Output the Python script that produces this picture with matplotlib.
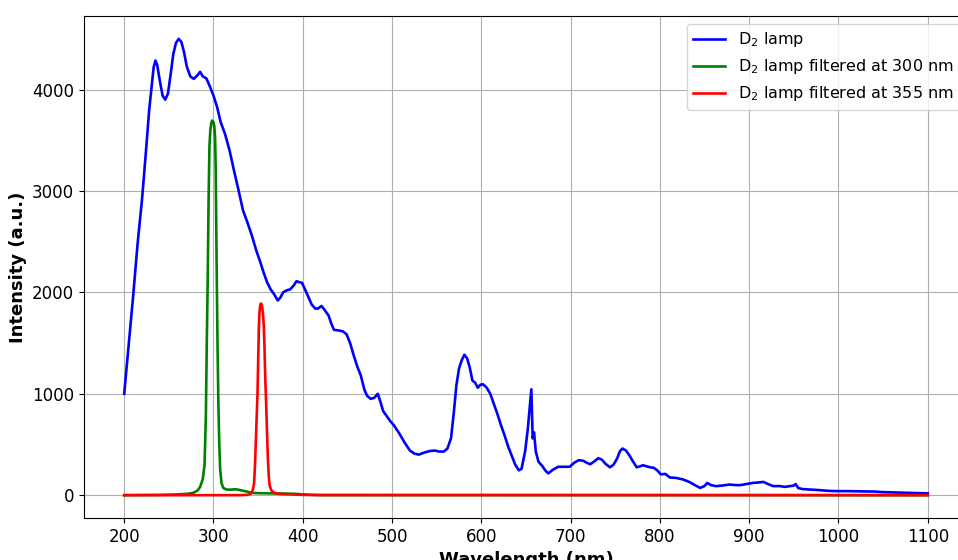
import numpy as np
import matplotlib
matplotlib.use("Agg")
import matplotlib.pyplot as plt

# D2 lamp spectrum (wavelength nm, intensity a.u.)
lamp_wl = [200, 205, 210, 215, 220, 224, 228, 231, 233, 235, 237, 240, 243, 246, 249,
           252, 255, 258, 261, 264, 267, 270, 274, 278, 282, 285, 288, 292, 296, 300,
           304, 308, 313, 318, 323, 328, 333, 338, 343, 348, 352, 356, 360, 364, 368,
           372, 375, 378, 382, 386, 390, 393, 396, 399, 402, 406, 410, 414, 417, 421,
           425, 429, 432, 435, 440, 445, 449, 453, 457, 461, 465, 469, 472, 476, 480,
           484, 487, 490, 494, 498, 502, 508, 514, 520, 525, 530, 536, 542, 548, 553,
           558, 562, 566, 569, 572, 575, 578, 581, 584, 587, 590, 593, 596, 599, 602,
           606, 610, 614, 618, 622, 626, 630, 634, 638, 642, 645, 649, 652, 654.5, 656,
           657.5, 659, 661, 664, 668, 672, 675, 680, 686, 692, 699, 704, 709, 714, 718,
           722, 726, 731, 735, 739, 744, 748, 752, 755, 758, 762, 766, 770, 774, 778,
           781, 785, 789, 793, 797, 801, 806, 811, 818, 826, 833, 838, 845, 850, 853,
           857, 863, 870, 878, 884, 890, 897, 904, 910, 916, 921, 927, 934, 940, 945,
           950, 952, 955, 960, 970, 980, 990, 1000, 1010, 1020, 1030, 1040, 1050, 1060,
           1070, 1080, 1090, 1100]
lamp_int = [1000, 1480, 1960, 2480, 2920, 3350, 3800, 4056, 4220, 4286, 4240, 4080, 3940, 3900, 3960,
            4150, 4350, 4460, 4500, 4470, 4370, 4230, 4130, 4105, 4140, 4175, 4130, 4110, 4030, 3940,
            3830, 3680, 3560, 3400, 3200, 3010, 2810, 2690, 2560, 2410, 2310, 2200, 2100, 2030, 1980,
            1920, 1950, 2000, 2020, 2030, 2070, 2110, 2100, 2095, 2040, 1960, 1880, 1840, 1840, 1866,
            1820, 1770, 1690, 1630, 1625, 1615, 1587, 1500, 1380, 1270, 1180, 1040, 980, 950, 960,
            1000, 920, 830, 780, 730, 690, 610, 520, 440, 410, 400, 420, 435, 440, 430,
            430, 460, 560, 800, 1080, 1250, 1330, 1385, 1350, 1260, 1130, 1110, 1060, 1090, 1093,
            1060, 1000, 900, 800, 690, 590, 480, 390, 300, 245, 260, 430, 650, 900, 1044,
            560, 620, 430, 330, 290, 240, 215, 250, 280, 280, 280, 320, 345, 340, 320,
            305, 330, 365, 350, 310, 275, 300, 360, 430, 460, 440, 390, 330, 275, 285,
            295, 285, 275, 270, 245, 205, 210, 175, 170, 155, 130, 105, 72, 90, 121,
            100, 89, 95, 105, 100, 99, 110, 121, 125, 131, 110, 89, 90, 82, 89,
            95, 110, 70, 60, 55, 49, 42, 40, 40, 38, 37, 36, 30, 28,
            25, 22, 20, 18]

# lamp filtered at 300 nm
f300_wl = [200, 240, 255, 265, 272, 278, 282, 285, 288, 290, 291.5, 292.5, 293.5, 294.5, 295.5,
           296.5, 297.5, 298.5, 300, 301, 301.8, 302.5, 303.5, 304.5, 305.5, 306.5, 307.5, 309,
           311, 315, 320, 325, 330, 335, 340, 345, 350, 360, 370, 380, 390, 400, 410, 420, 1100]
f300_int = [0, 3, 6, 10, 15, 25, 45, 80, 160, 300, 800, 1500, 2100, 2900, 3450,
            3600, 3670, 3694, 3680, 3630, 3520, 3200, 2300, 1500, 900, 500, 250, 120,
            70, 55, 55, 58, 50, 40, 30, 22, 20, 18, 17, 16, 14, 8, 3, 1, 0]

# lamp filtered at 355 nm
f355_wl = [200, 330, 338, 342, 344, 345.5, 346.5, 347.5, 348.5, 349.3, 350, 350.8, 351.5, 352.3,
           353, 353.8, 354.6, 355.5, 356.3, 357, 358, 359, 360, 361, 362, 363, 365, 368, 371,
           380, 390, 400, 420, 1100]
f355_int = [0, 0, 3, 15, 50, 120, 300, 550, 800, 1000, 1300, 1650, 1800, 1870,
            1890, 1885, 1850, 1780, 1680, 1500, 1150, 900, 600, 350, 180, 90, 45, 25, 15,
            10, 7, 3, 1, 0]

fig = plt.figure(figsize=(9.58, 5.60), dpi=100)
# axes run past the right and bottom edge, as in the cropped original
ax = fig.add_axes([0.0877, 0.075, 0.9227, 0.8964])

ax.plot(lamp_wl, lamp_int, color='blue', lw=1.9, label=r'D$_2$ lamp')
ax.plot(f300_wl, f300_int, color='green', lw=1.9, label=r'D$_2$ lamp filtered at 300 nm')
ax.plot(f355_wl, f355_int, color='red', lw=1.9, label=r'D$_2$ lamp filtered at 355 nm')

ax.set_xticks(np.arange(200, 1101, 100))
ax.set_yticks([0, 1000, 2000, 3000, 4000])
ax.tick_params(labelsize=12)
ax.set_xlabel('Wavelength (nm)', fontsize=13, fontweight='bold')
ax.set_ylabel('Intensity (a.u.)', fontsize=13, fontweight='bold')
ax.grid(True)
ax.legend(loc='upper right', fontsize=11.5)

plt.savefig('out.png', dpi=100)
